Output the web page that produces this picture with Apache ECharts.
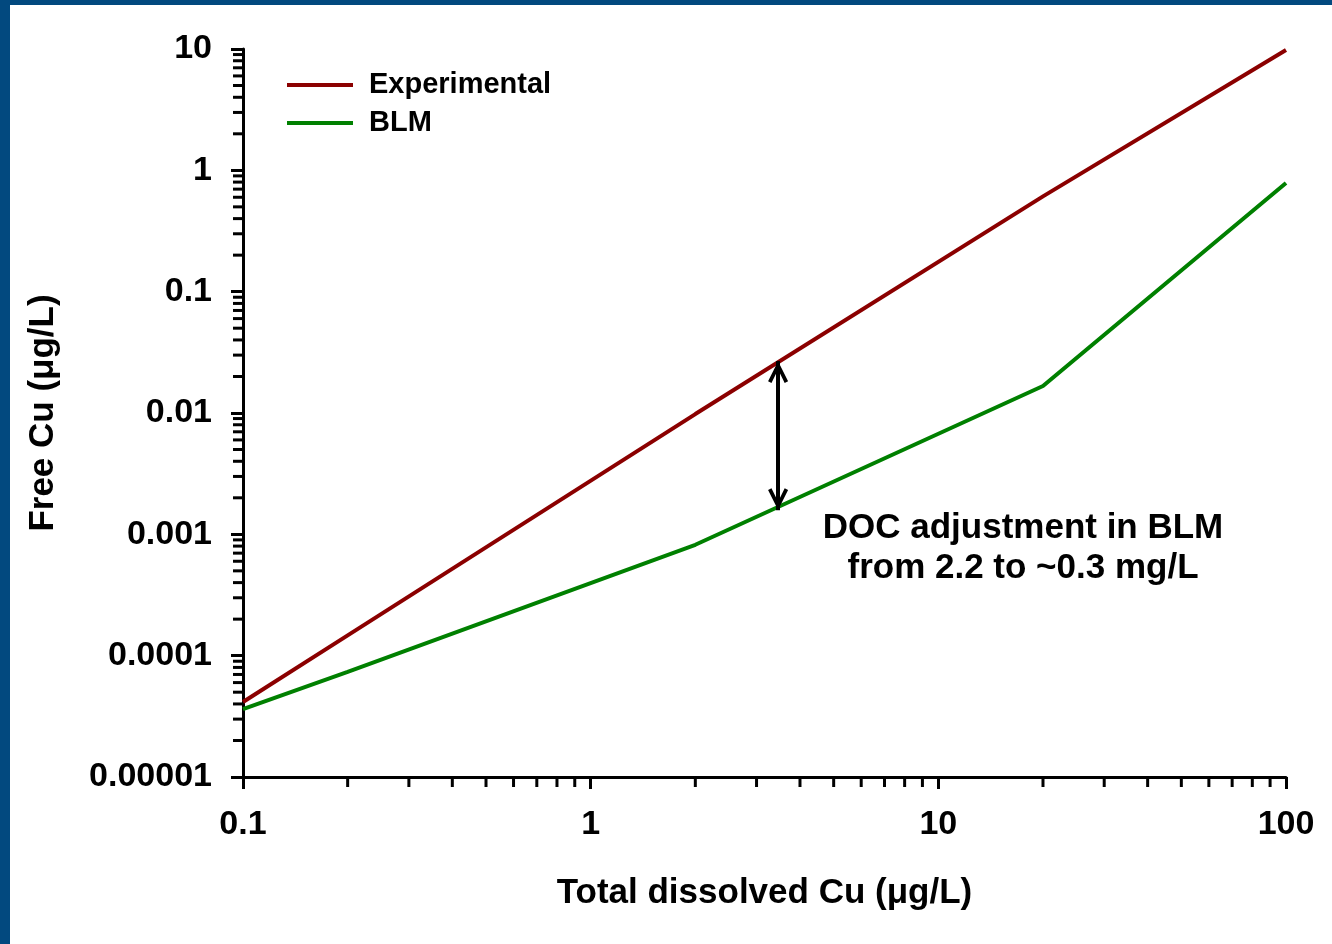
<!DOCTYPE html>
<html>
<head>
<meta charset="utf-8">
<script src="https://cdn.jsdelivr.net/npm/echarts@6/dist/echarts.min.js"></script>
<style>
  html, body { margin: 0; padding: 0; background: #02497f; }
  #chart { position: absolute; left: 10px; top: 5px; width: 1322px; height: 939px; background: #fff; }
</style>
</head>
<body>
<div id="chart"></div>
<script>
// total dissolved Cu (ug/L)
var totalCu = [0.1, 0.2, 2, 20, 100];
// free Cu (ug/L)
var experimental = [4.15e-5, 1.47e-4, 0.0098, 0.61, 9.8];
var blm = [3.63e-5, 7.35e-5, 0.00082, 0.0167, 0.787];

var xTickLabels = ['0.1', '1', '10', '100'];
var yTickLabels = ['0.00001', '0.0001', '0.001', '0.01', '0.1', '1', '10'];

// double arrow: x position, top (experimental) and bottom (BLM) ends
var arrowX = 3.46;
var arrowTop = 0.0268;
var arrowBottom = 0.00158;

var noteText = 'DOC adjustment in BLM\nfrom 2.2 to ~0.3 mg/L';

var font = '"Liberation Sans", Arial, sans-serif';

// minor tick values (2..9 of each decade)
function minorTicks(from, to) {
  var out = [];
  for (var d = from; d < to; d++) {
    for (var m = 2; m <= 9; m++) out.push(m * Math.pow(10, d));
  }
  return out;
}
var xMinor = minorTicks(-1, 2);
var yMinor = minorTicks(-5, 1);

function pair(xs, ys) {
  return xs.map(function (x, i) { return [x, ys[i]]; });
}

var chart = echarts.init(document.getElementById('chart'));

// open chevron, tip at the centre of its box (degenerate point above keeps it centred)
var arrowHead = 'path://M0,-22 L0.01,-22 L0,-22 Z M0,0 L10,20 L6.6,21.7 L0,8.3 L-6.6,21.7 L-10,20 Z';
var bold = { fontFamily: font, fontWeight: 'bold', color: '#000' };

var option = {
  backgroundColor: '#fff',
  animation: false,
  grid: { left: 233, right: 46, top: 44, bottom: 167 },
  legend: {
    data: [
      { name: 'Experimental', icon: 'rect' },
      { name: 'BLM', icon: 'rect' }
    ],
    orient: 'vertical',
    left: 272,
    top: 60,
    itemWidth: 66,
    itemHeight: 4,
    itemGap: 8,
    textStyle: Object.assign({ fontSize: 29, lineHeight: 30, padding: [0, 0, 0, 11] }, bold)
  },
  xAxis: {
    type: 'log',
    logBase: 10,
    min: 0.1,
    max: 100,
    name: 'Total dissolved Cu (\u03bcg/L)',
    nameLocation: 'middle',
    nameGap: 99,
    nameTextStyle: Object.assign({ fontSize: 35 }, bold),
    axisLine: { lineStyle: { color: '#000', width: 3 } },
    axisTick: { length: 12, lineStyle: { color: '#000', width: 3 } },
    axisLabel: Object.assign({
      margin: 31,
      fontSize: 34,
      formatter: function (v) { return xTickLabels[Math.round(Math.log10(v)) + 1]; }
    }, bold),
    splitLine: { show: false }
  },
  yAxis: {
    type: 'log',
    logBase: 10,
    min: 0.00001,
    max: 10,
    name: 'Free Cu (\u03bcg/L)',
    nameLocation: 'middle',
    nameRotate: 90,
    nameGap: 182,
    nameTextStyle: Object.assign({ fontSize: 35 }, bold),
    axisLine: { lineStyle: { color: '#000', width: 3 } },
    axisTick: { length: 12, lineStyle: { color: '#000', width: 3 } },
    axisLabel: Object.assign({
      margin: 31,
      fontSize: 34,
      formatter: function (v) { return yTickLabels[Math.round(Math.log10(v)) + 5]; }
    }, bold),
    splitLine: { show: false }
  },
  graphic: [{
    type: 'text',
    x: 1013,
    y: 503,
    style: {
      text: noteText,
      textAlign: 'center',
      textVerticalAlign: 'top',
      font: 'bold 35px ' + font,
      lineHeight: 40,
      fill: '#000'
    }
  }],
  series: [
    {
      name: 'Experimental',
      type: 'line',
      symbol: 'none',
      data: pair(totalCu, experimental),
      lineStyle: { color: '#8b0000', width: 4 },
      itemStyle: { color: '#8b0000' },
      z: 3
    },
    {
      name: 'BLM',
      type: 'line',
      symbol: 'none',
      data: pair(totalCu, blm),
      lineStyle: { color: '#008000', width: 4 },
      itemStyle: { color: '#008000' },
      z: 3,
      markLine: {
        silent: true,
        symbol: [arrowHead, arrowHead],
        symbolSize: [20, 44],
        label: { show: false },
        lineStyle: { color: '#000', width: 4, type: 'solid' },
        emphasis: { disabled: true },
        data: [[{ coord: [arrowX, arrowTop] }, { coord: [arrowX, arrowBottom] }]]
      }
    },
    {
      name: 'xminor',
      type: 'custom',
      silent: true,
      clip: false,
      data: xMinor.map(function (v) { return [v, 0.00001]; }),
      renderItem: function (params, api) {
        var p = api.coord([api.value(0), api.value(1)]);
        return { type: 'line', shape: { x1: p[0], y1: p[1], x2: p[0], y2: p[1] + 10 }, style: { stroke: '#000', lineWidth: 3 } };
      }
    },
    {
      name: 'yminor',
      type: 'custom',
      silent: true,
      clip: false,
      data: yMinor.map(function (v) { return [0.1, v]; }),
      renderItem: function (params, api) {
        var p = api.coord([api.value(0), api.value(1)]);
        return { type: 'line', shape: { x1: p[0], y1: p[1], x2: p[0] - 10, y2: p[1] }, style: { stroke: '#000', lineWidth: 3 } };
      }
    }
  ]
};

chart.setOption(option);
</script>
</body>
</html>
